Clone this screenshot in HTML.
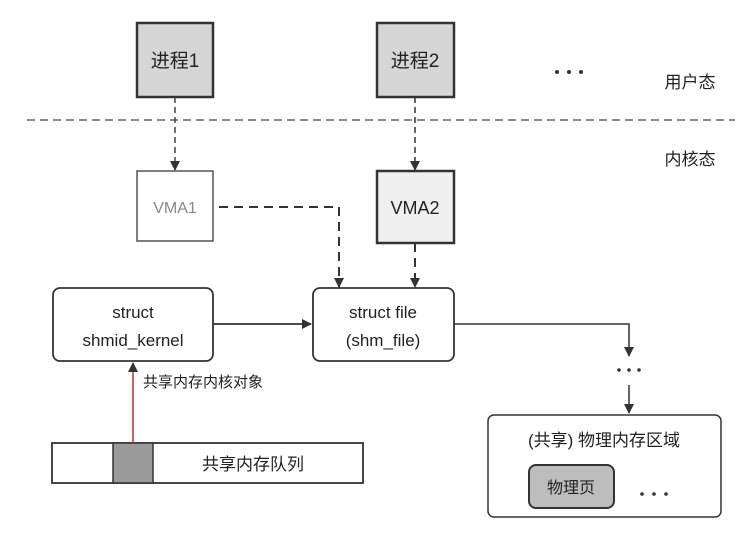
<!DOCTYPE html>
<html><head><meta charset="utf-8"><style>
body{margin:0;background:#fff;}
svg text{font-family:"Liberation Sans","Noto Sans CJK SC",sans-serif;fill:#222;}
</style></head><body>
<svg width="750" height="532" viewBox="0 0 750 532" xmlns="http://www.w3.org/2000/svg">
<defs>
<marker id="a" markerWidth="10" markerHeight="10" refX="9" refY="5" orient="auto" markerUnits="userSpaceOnUse"><path d="M0,0 L10,5 L0,10 z" fill="#333"/></marker>
</defs>
<rect width="750" height="532" fill="#fff"/>
<rect x="137" y="23" width="76" height="74" fill="#d6d6d6" stroke="#333" stroke-width="2.5"/>
<text x="175" y="67" font-size="19" text-anchor="middle">进程1</text>
<rect x="377" y="23" width="77" height="74" fill="#d6d6d6" stroke="#333" stroke-width="2.5"/>
<text x="415" y="67" font-size="19" text-anchor="middle">进程2</text>
<g fill="#333"><circle cx="557" cy="72" r="2"/><circle cx="569" cy="72" r="2"/><circle cx="581" cy="72" r="2"/></g>
<text x="690" y="88" font-size="17" text-anchor="middle">用户态</text>
<line x1="27" y1="120" x2="735" y2="120" stroke="#666" stroke-width="1.5" stroke-dasharray="8,5"/>
<text x="690" y="165" font-size="17" text-anchor="middle">内核态</text>
<line x1="175" y1="97" x2="175" y2="170" stroke="#444" stroke-width="1.5" stroke-dasharray="6,4" marker-end="url(#a)"/>
<line x1="415" y1="97" x2="415" y2="170" stroke="#333" stroke-width="1.5" stroke-dasharray="6,4" marker-end="url(#a)"/>
<rect x="137" y="171" width="76" height="70" fill="#fff" stroke="#555" stroke-width="1.5"/>
<text x="175" y="213" font-size="16" text-anchor="middle" style="fill:#888">VMA1</text>
<rect x="377" y="171" width="77" height="72" fill="#f0f0f0" stroke="#333" stroke-width="2.5"/>
<text x="415" y="214" font-size="18" text-anchor="middle">VMA2</text>
<path d="M219,207 H339 V287" fill="none" stroke="#333" stroke-width="2" stroke-dasharray="9,6" marker-end="url(#a)"/>
<line x1="415" y1="243" x2="415" y2="287" stroke="#333" stroke-width="2" stroke-dasharray="9,6" marker-end="url(#a)"/>
<rect x="53" y="288" width="160" height="73" rx="7" fill="#fff" stroke="#333" stroke-width="1.8"/>
<text x="133" y="318" font-size="17" text-anchor="middle">struct</text>
<text x="133" y="346" font-size="17" text-anchor="middle">shmid_kernel</text>
<rect x="313" y="288" width="141" height="73" rx="7" fill="#fff" stroke="#333" stroke-width="1.8"/>
<text x="383" y="318" font-size="17" text-anchor="middle">struct file</text>
<text x="383" y="346" font-size="17" text-anchor="middle">(shm_file)</text>
<line x1="213" y1="324" x2="311" y2="324" stroke="#333" stroke-width="1.8" marker-end="url(#a)"/>
<path d="M454,324 H629 V356" fill="none" stroke="#333" stroke-width="1.5" marker-end="url(#a)"/>
<g fill="#333"><circle cx="619" cy="370" r="1.8"/><circle cx="629" cy="370" r="1.8"/><circle cx="639" cy="370" r="1.8"/></g>
<line x1="629" y1="385" x2="629" y2="413" stroke="#333" stroke-width="1.5" marker-end="url(#a)"/>
<rect x="488" y="415" width="233" height="102" rx="6" fill="#fff" stroke="#333" stroke-width="1.5"/>
<text x="604" y="446" font-size="17" text-anchor="middle">(共享) 物理内存区域</text>
<rect x="529" y="465" width="85" height="43" rx="7" fill="#bdbdbd" stroke="#333" stroke-width="2"/>
<text x="571" y="493" font-size="16" text-anchor="middle">物理页</text>
<g fill="#333"><circle cx="642" cy="494" r="1.8"/><circle cx="654" cy="494" r="1.8"/><circle cx="666" cy="494" r="1.8"/></g>
<rect x="52" y="443" width="311" height="40" fill="#fff" stroke="#333" stroke-width="1.8"/>
<rect x="113" y="443" width="40" height="40" fill="#9a9a9a" stroke="#333" stroke-width="1.5"/>
<text x="253" y="470" font-size="17" text-anchor="middle">共享内存队列</text>
<line x1="133" y1="443" x2="133" y2="363" stroke="#c0303a" stroke-width="1.5" marker-end="url(#a)"/>
<text x="143" y="387" font-size="15">共享内存内核对象</text>
</svg>
</body></html>
